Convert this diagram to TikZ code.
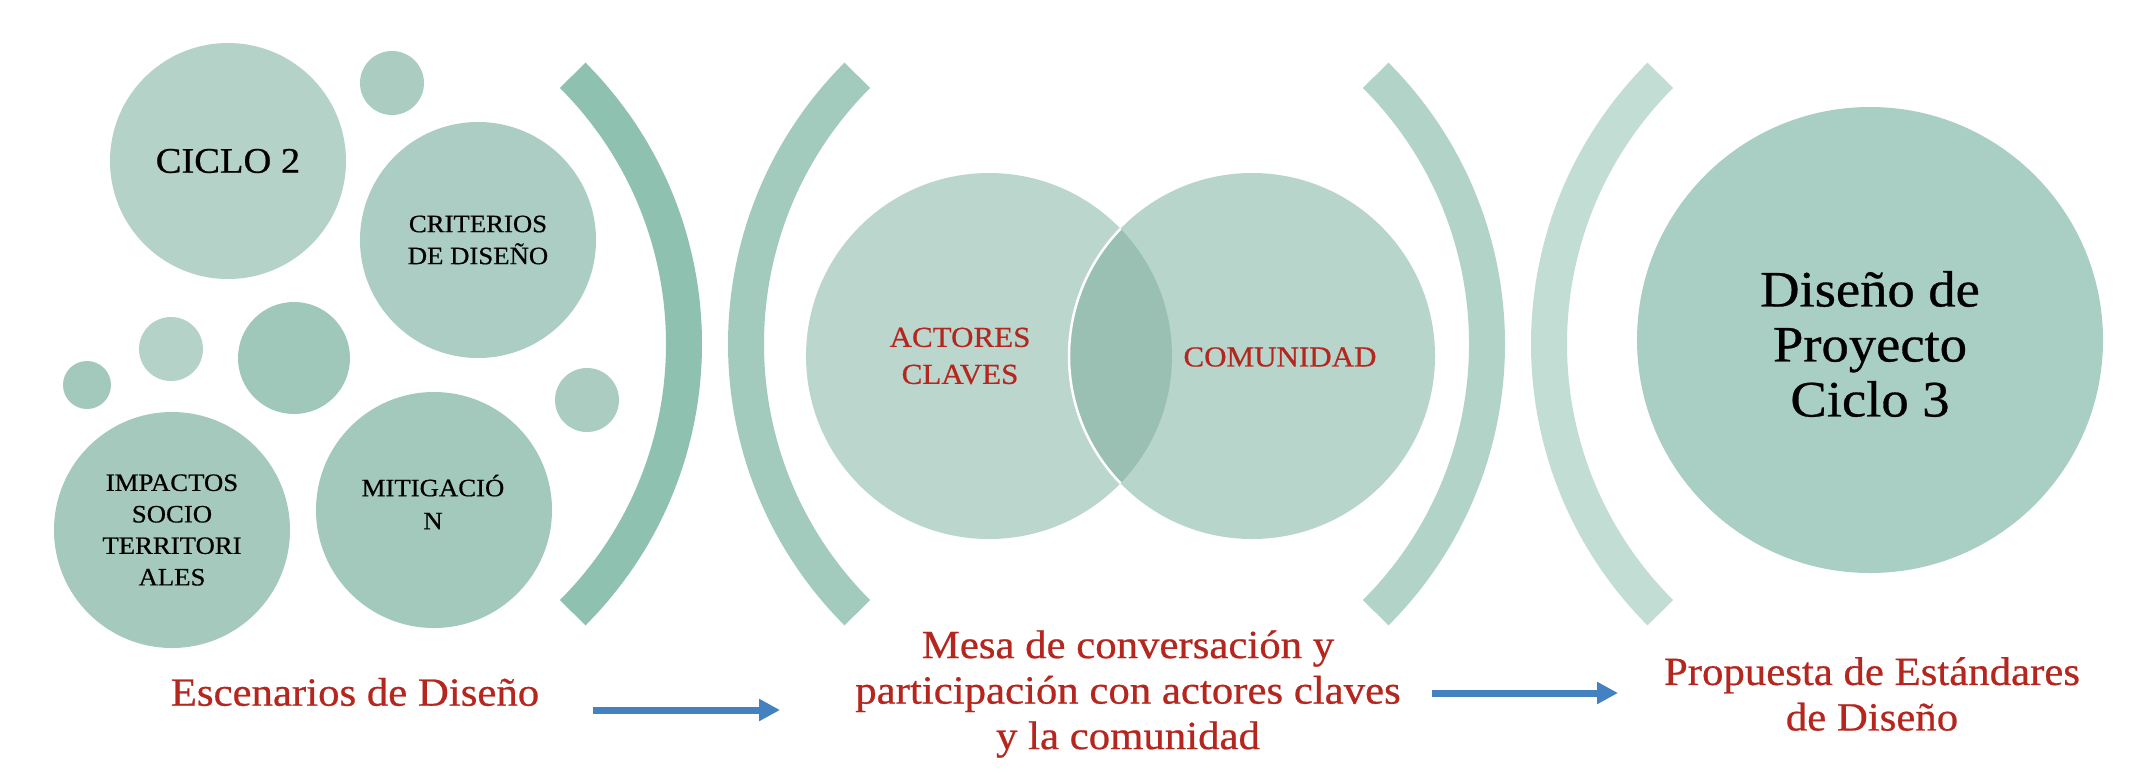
\documentclass[tikz,border=0pt]{standalone}
\usepackage{fontspec}
\setmainfont[FakeStretch=1.07,FakeBold=0.6]{Liberation Serif}
\usetikzlibrary{arrows.meta}
\definecolor{brkA}{HTML}{8FC1B0}
\definecolor{brkB}{HTML}{A2CABD}
\definecolor{brkC}{HTML}{B1D3C8}
\definecolor{brkD}{HTML}{C2DDD4}
\definecolor{cA}{HTML}{B4D2C8}
\definecolor{cB}{HTML}{ABCDC3}
\definecolor{cC}{HTML}{A0C8BA}
\definecolor{cD}{HTML}{AACCC1}
\definecolor{cE}{HTML}{A5C9BD}
\definecolor{cF}{HTML}{A3C9BC}
\definecolor{cBig}{HTML}{A9CEC3}
\definecolor{venL}{HTML}{BBD6CD}
\definecolor{venR}{HTML}{B8D5CB}
\definecolor{venO}{HTML}{9ABFB3}
\definecolor{redtxt}{RGB}{181,38,30}
\definecolor{arrowblue}{HTML}{4381C1}
\begin{document}
\begin{tikzpicture}[x=1pt,y=-1pt,
  bub/.style={circle, inner sep=0pt, align=center, text=black},
  brk/.style={line width=36pt},
  ctext/.style={align=center, text=black},
  lbl/.style={text=redtxt, align=center, font=\fontsize{40}{45.5}\selectfont},
  flow/.style={draw=arrowblue, line width=7pt, -{Triangle[length=21pt,width=21pt]}}]
\useasboundingbox (0,0) rectangle (2154,780);
\fill[white] (0,0) rectangle (2154,780);

% left cluster
\node[bub, fill=cA, minimum size=236pt, font=\fontsize{36}{40}\selectfont] (ciclo) at (228,161) {CICLO 2};
\node[bub, fill=cD, minimum size=64pt] (s1) at (392,83) {};
\node[bub, fill=cB, minimum size=236pt, font=\fontsize{25}{32}\selectfont] (crit) at (478,240) {CRITERIOS\\DE DISEÑO};
\node[bub, fill=cC, minimum size=112pt] (s2) at (294,358) {};
\node[bub, fill=cA, minimum size=64pt] (s3) at (171,349) {};
\node[bub, fill=cF, minimum size=48pt] (s4) at (87,385) {};
\node[bub, fill=cD, minimum size=64pt] (s5) at (587,400) {};
\node[bub, fill=cE, minimum size=236pt, font=\fontsize{25}{31.5}\selectfont] (imp) at (172,530) {IMPACTOS\\SOCIO\\TERRITORI\\ALES};
\node[bub, fill=cF, minimum size=236pt] (mit) at (434,510) {};
\node[ctext, font=\fontsize{25}{33}\selectfont] (mitt) at (433,502) {MITIGACIÓ\\N};

% brackets
\draw[brk, draw=brkA] (304,344) ++(45:380) arc (45:-45:380);
\draw[brk, draw=brkB] (1126,344) ++(135:380) arc (135:225:380);
\draw[brk, draw=brkC] (1107,344) ++(45:380) arc (45:-45:380);
\draw[brk, draw=brkD] (1929,344) ++(135:380) arc (135:225:380);

% venn
\node[bub, fill=venL, minimum size=366pt] (act) at (989,356) {};
\node[bub, fill=venR, minimum size=366pt] (com) at (1252,356) {};
\begin{scope}
  \clip (act.center) circle (183);
  \fill[venO] (com.center) circle (183);
  \draw[white, line width=2.5pt] (com.center) circle (183);
\end{scope}
\node[ctext, text=redtxt, font=\fontsize{29}{37}\selectfont] (actt) at (960,356) {ACTORES\\CLAVES};
\node[ctext, text=redtxt, font=\fontsize{29}{37}\selectfont] (comt) at (1280,357) {COMUNIDAD};

% big circle
\node[bub, fill=cBig, minimum size=466pt] (dis) at (1870,340) {};
\node[ctext, font=\fontsize{51}{55}\selectfont] (dist) at (1870,344) {Diseño de\\Proyecto\\Ciclo 3};

% labels
\node[lbl] (esc) at (355,692) {Escenarios de Diseño};
\node[lbl] (mesa) at (1128,694) {Mesa de conversación y\\participación con actores claves\\y la comunidad};
\node[lbl] (prop) at (1872,694) {Propuesta de Estándares\\de Diseño};

% arrows
\coordinate (a1s) at (593,710);
\coordinate (a1e) at (780,710);
\coordinate (a2s) at (1432,693);
\coordinate (a2e) at (1618,693);
\draw[flow] (a1s) -- (a1e);
\draw[flow] (a2s) -- (a2e);
\end{tikzpicture}
\end{document}
